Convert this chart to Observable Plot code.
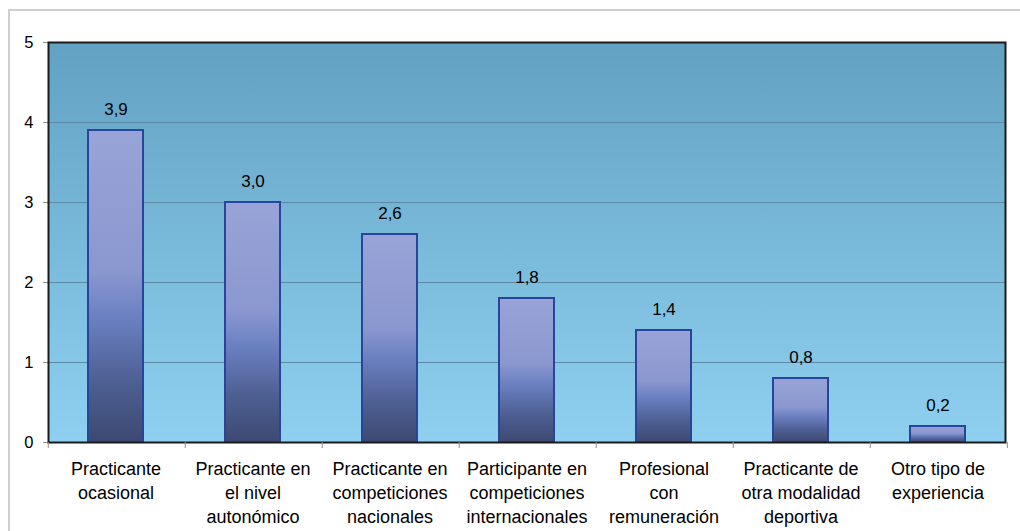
<!DOCTYPE html>
<html>
<head>
<meta charset="utf-8">
<script src="https://cdn.jsdelivr.net/npm/d3@7"></script>
<script src="https://cdn.jsdelivr.net/npm/@observablehq/plot@0.6"></script>
<style>
  html, body { margin: 0; padding: 0; background: #fff; }
  #wrap { position: relative; width: 1020px; height: 531px; overflow: hidden; font-family: "Liberation Sans", Arial, sans-serif; }
  #border { position: absolute; left: 8px; top: 9px; width: 1200px; height: 700px; border: 2px solid #cfcfcf; box-sizing: border-box; }
  #chart { position: absolute; left: 0; top: 0; }
</style>
</head>
<body>
<div id="wrap"><div id="border"></div><div id="chart"></div></div>
<script>
const categories = [
  "Practicante\nocasional",
  "Practicante en\nel nivel\nautonómico",
  "Practicante en\ncompeticiones\nnacionales",
  "Participante en\ncompeticiones\ninternacionales",
  "Profesional\ncon\nremuneración",
  "Practicante de\notra modalidad\ndeportiva",
  "Otro tipo de\nexperiencia"
];
const values = [3.9, 3.0, 2.6, 1.8, 1.4, 0.8, 0.2];
const yTicks = [0, 1, 2, 3, 4, 5];

const data = categories.map((c, i) => ({category: c, value: values[i]}));
const fmt = d3.formatLocale({decimal: ",", thousands: ".", grouping: [3], currency: ["", "€"]}).format(".1f");

const W = 1020, H = 531, ML = 48, MR = 15, MT = 42, MB = 89;
const padInner = 0.6, padOuter = 0.29;

// boundary ticks under the x axis, computed from the band scale
function boundaryTicks(index, scales, values, dims) {
  const g = d3.create("svg:g");
  const x = scales.x;
  const n = categories.length;
  const step = (dims.width - dims.marginLeft - dims.marginRight) / (n - padInner + 2 * padOuter);
  const y0 = dims.height - dims.marginBottom;
  const xs = categories.map(c => x(c) - (padOuter + (1 - padInner) / 2 - 0.5 + padInner / 2) * step);
  xs.push(xs[xs.length - 1] + step);
  for (const px of xs) {
    g.append("line").attr("x1", px).attr("x2", px).attr("y1", y0).attr("y2", y0 + 6)
      .attr("stroke", "#8c8c8c").attr("stroke-width", 1);
  }
  return g.node();
}

const plot = Plot.plot({
  width: W,
  height: H,
  marginLeft: ML,
  marginRight: MR,
  marginTop: MT,
  marginBottom: MB,
  style: {fontFamily: "'Liberation Sans', Arial, sans-serif", fontSize: "16px", color: "#000", background: "transparent"},
  x: {domain: categories, paddingInner: padInner, paddingOuter: padOuter, axis: null},
  y: {domain: [0, 5], ticks: yTicks, tickSize: 5, tickPadding: 10, label: null, tickFormat: d => String(d)},
  marks: [
    Plot.frame({fill: "#7ab8d8", stroke: "none"}),
    Plot.ruleY([1, 2, 3, 4], {stroke: "#5a8aa5", strokeWidth: 1}),
    Plot.barY(data, {x: "category", y: "value", fill: "#7080c0", stroke: "#2a449a", strokeWidth: 2}),
    Plot.frame({stroke: "#1a1a1a", strokeWidth: 2, fill: "none"}),
    Plot.text(data, {x: "category", y: "value", text: d => fmt(d.value), dy: -21, fontSize: 17, fill: "#000"}),
    Plot.text(data, {x: "category", y: () => 0, text: "category", dy: 15, lineAnchor: "top", lineHeight: 1.34, fontSize: 18, fill: "#000"}),
    boundaryTicks
  ]
});

// gradients
const svg = d3.select(plot);
const defs = svg.insert("defs", ":first-child");
const bg = defs.append("linearGradient").attr("id", "bgGrad").attr("x1", 0).attr("y1", 0).attr("x2", 0).attr("y2", 1);
bg.append("stop").attr("offset", "0%").attr("stop-color", "#62a1c2");
bg.append("stop").attr("offset", "100%").attr("stop-color", "#8fd0f0");
const bar = defs.append("linearGradient").attr("id", "barGrad").attr("x1", 0).attr("y1", 0).attr("x2", 0).attr("y2", 1);
[["0%", "#98a4d7"], ["45%", "#8b98d0"], ["60%", "#6b80c1"], ["80%", "#4e6094"], ["100%", "#3c4971"]]
  .forEach(([o, c]) => bar.append("stop").attr("offset", o).attr("stop-color", c));

svg.selectAll("g[aria-label='bar'] rect").attr("fill", "url(#barGrad)");
svg.select("[aria-label='frame']").attr("fill", "url(#bgGrad)");
svg.selectAll("g[aria-label='y-axis tick'] path, g[aria-label='y-axis'] .tick line").attr("stroke", "#8c8c8c");
svg.selectAll("g[aria-label='y-axis tick label'], g[aria-label='y-axis']").attr("font-size", 16.5);
svg.selectAll("g[aria-label='y-axis tick label'] text, g[aria-label='y-axis'] text").attr("font-size", 16.5);

document.getElementById("chart").appendChild(plot);
</script>
</body>
</html>
